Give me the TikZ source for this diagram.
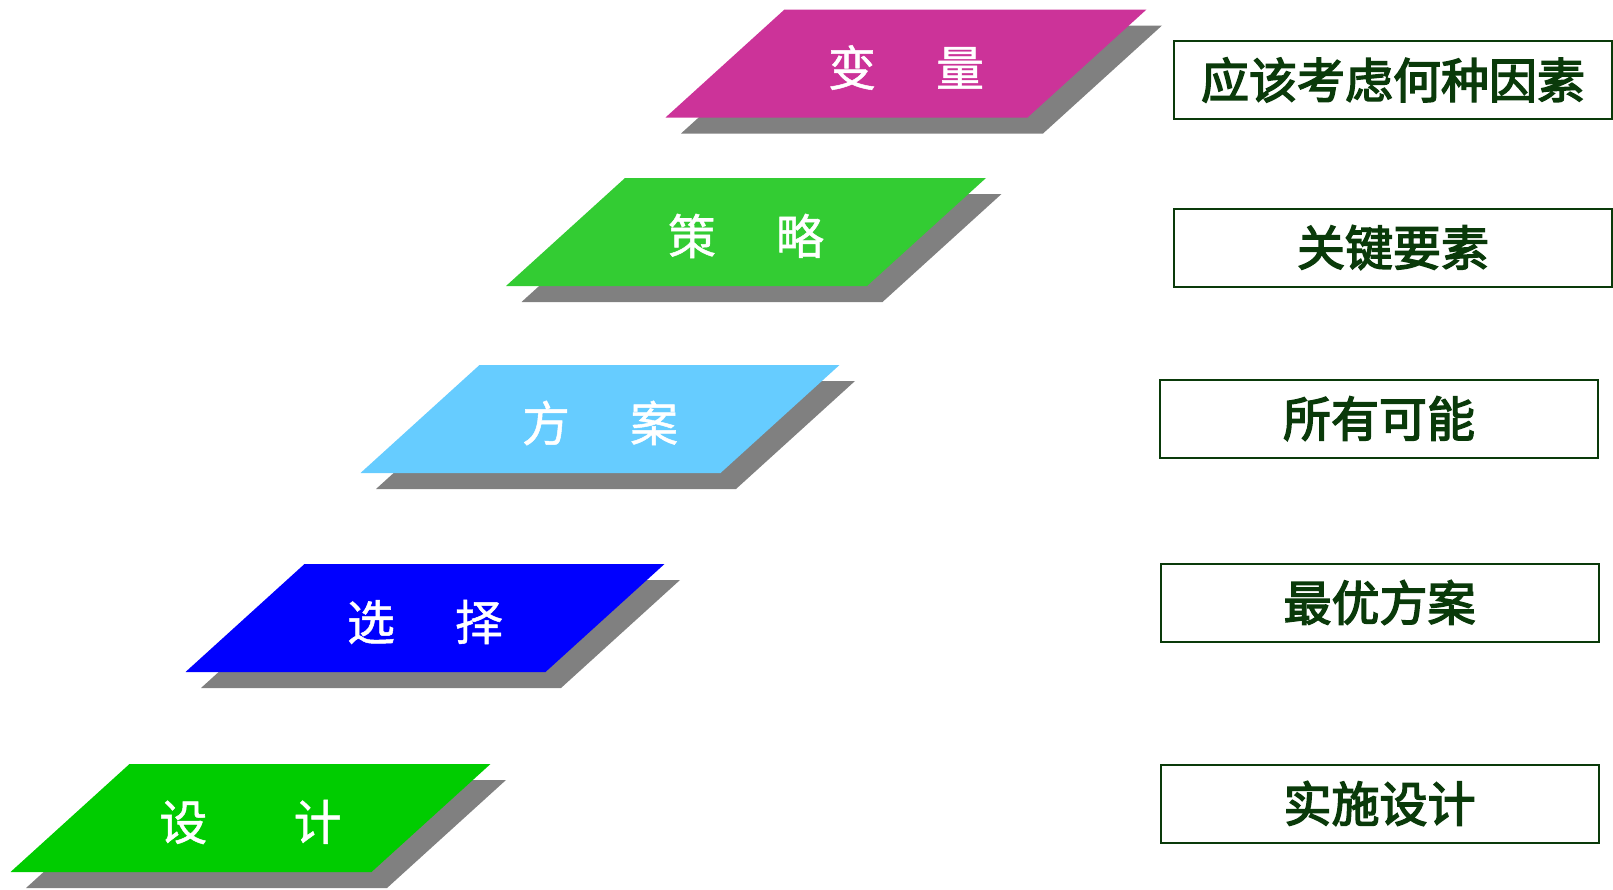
\documentclass[tikz,border=0pt]{standalone}
\usepackage{fontspec}
\newfontfamily\cjk{Noto Sans CJK SC}[FakeBold=1]
\newfontfamily\cjkbold{Noto Sans CJK SC}[FakeBold=3]
\definecolor{magentaL}{HTML}{CC3399}
\definecolor{greenL}{HTML}{33CC33}
\definecolor{skyL}{HTML}{66CCFF}
\definecolor{blueL}{HTML}{0000FF}
\definecolor{greenD}{HTML}{00CC00}
\definecolor{shadowL}{HTML}{808080}
\definecolor{darkG}{HTML}{0A3A0A}
\tikzset{
  layertext/.style={text=white, inner sep=0pt, font=\cjk\fontsize{48}{48}\selectfont},
  notebox/.style={draw=darkG, line width=2pt, text=darkG, inner sep=0pt,
    minimum width=438, minimum height=78, font=\cjkbold\fontsize{48}{48}\selectfont}
}
\begin{document}
\begin{tikzpicture}[x=1pt, y=-1pt]
\useasboundingbox (0,0) rectangle (1613,889);
% Draw layers with shadows
\foreach \cx/\cy/\w/\col/\nm/\gap/\lbl/\lbr in {906/63.5/362/magentaL/bianliang/1.25em/变/量,
    746/232/361/greenL/celve/1.25em/策/略,
    600/419/360/skyL/fangan/1.25em/方/案,
    425/618/360/blueL/xuanze/1.25em/选/择,
    250.5/818/361/greenD/sheji/1.8em/设/计}{
  \fill[shadowL] (\cx-\w/2+75,\cy-38) -- (\cx+\w/2+75,\cy-38) -- (\cx+\w/2-44,\cy+70) -- (\cx-\w/2-44,\cy+70) -- cycle;
  \fill[\col] (\cx-\w/2+59.5,\cy-54) -- (\cx+\w/2+59.5,\cy-54) -- (\cx+\w/2-59.5,\cy+54) -- (\cx-\w/2-59.5,\cy+54) -- cycle;
  \node[layertext] (\nm) at (\cx,\cy+4) {\lbl\hspace{\gap}\lbr};
}
% Draw notes
\node[notebox] (yinsu) at (1393,80) {应该考虑何种因素};
\node[notebox] (guanjian) at (1393,247.5) {关键要素};
\node[notebox] (kenen) at (1379,418.5) {所有可能};
\node[notebox] (zuiyou) at (1379.5,602.5) {最优方案};
\node[notebox] (shishi) at (1379.5,803.5) {实施设计};
\end{tikzpicture}
\end{document}
